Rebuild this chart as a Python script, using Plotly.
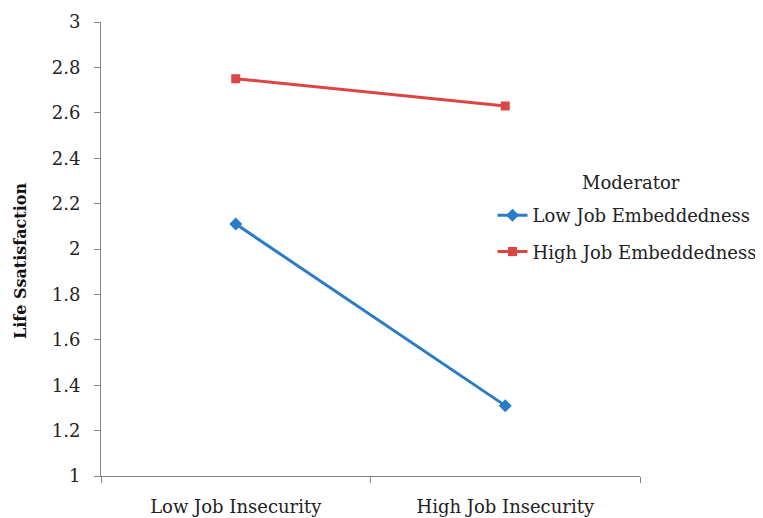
import plotly.graph_objects as go

categories = ["Low Job Insecurity", "High Job Insecurity"]
series_names = ["Low Job Embeddedness", "High Job Embeddedness"]
low_embed = [2.11, 1.31]
high_embed = [2.75, 2.63]
y_ticks = [1, 1.2, 1.4, 1.6, 1.8, 2, 2.2, 2.4, 2.6, 2.8, 3]
y_tick_labels = ["1", "1.2", "1.4", "1.6", "1.8", "2", "2.2", "2.4", "2.6", "2.8", "3"]

FONT = "DejaVu Serif"
FS = 18
fig = go.Figure()
fig.add_trace(go.Scatter(
    x=categories, y=low_embed, name=series_names[0], mode="lines+markers",
    legendgroup="a",
    line=dict(color="#2a7cc6", width=3),
    marker=dict(symbol="diamond", size=10, color="#2a7cc6"),
))
fig.add_trace(go.Scatter(
    x=categories, y=high_embed, name=series_names[1], mode="lines+markers",
    legendgroup="b",
    line=dict(color="#dc4543", width=3),
    marker=dict(symbol="square", size=9, color="#dc4543"),
))

fig.update_layout(
    width=763, height=518,
    margin=dict(l=93, r=131, t=14, b=50, autoexpand=False),
    plot_bgcolor="white", paper_bgcolor="white",
    font=dict(family=FONT, size=FS, color="#222"),
    showlegend=True,
    legend=dict(
        xref="container", x=0.635, y=0.6145, xanchor="left", yanchor="top",
        font=dict(size=FS), bgcolor="rgba(0,0,0,0)",
        tracegroupgap=10, traceorder="grouped",
    ),
    xaxis=dict(
        type="category", range=[-0.5, 1.5], tickson="boundaries",
        showline=True, linecolor="#868686", linewidth=1,
        ticks="outside", ticklen=6, tickcolor="#868686", automargin=False,
        showgrid=False, zeroline=False, ticklabelstandoff=14,
        tickfont=dict(size=FS, family=FONT, color="#222"),
    ),
    yaxis=dict(
        range=[1, 3], tickvals=y_ticks, ticktext=y_tick_labels,
        showline=True, linecolor="#868686", linewidth=1,
        ticks="outside", ticklen=6, tickcolor="#868686", automargin=False,
        showgrid=False, zeroline=False, ticklabelstandoff=10,
        tickfont=dict(size=FS, family=FONT, color="#222"),
    ),
    annotations=[
        dict(text="Moderator", xref="paper", yref="paper", x=0.983, y=0.6454,
             xanchor="center", yanchor="middle", showarrow=False,
             font=dict(size=FS, family=FONT, color="#222")),
        dict(text="<b>Life Ssatisfaction</b>", xref="paper", yref="paper",
             x=-0.148, y=0.474, xanchor="center", yanchor="middle",
             textangle=-90, showarrow=False,
             font=dict(size=16, family=FONT, color="#111")),
    ],
)

fig.write_html("out.html")
